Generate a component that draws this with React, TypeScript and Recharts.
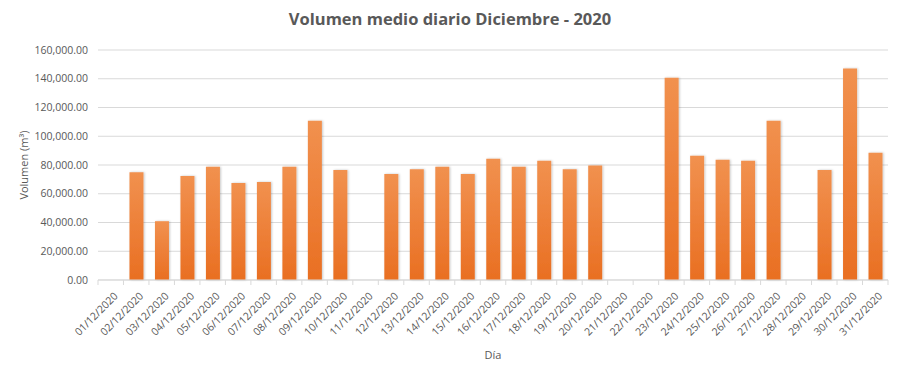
import React from "react";
import {
  BarChart,
  Bar,
  XAxis,
  YAxis,
  CartesianGrid,
} from "recharts";

const days = [
  "01/12/2020", "02/12/2020", "03/12/2020", "04/12/2020", "05/12/2020",
  "06/12/2020", "07/12/2020", "08/12/2020", "09/12/2020", "10/12/2020",
  "11/12/2020", "12/12/2020", "13/12/2020", "14/12/2020", "15/12/2020",
  "16/12/2020", "17/12/2020", "18/12/2020", "19/12/2020", "20/12/2020",
  "21/12/2020", "22/12/2020", "23/12/2020", "24/12/2020", "25/12/2020",
  "26/12/2020", "27/12/2020", "28/12/2020", "29/12/2020", "30/12/2020",
  "31/12/2020",
];

const volumen = [
  0, 75000, 40900, 72400, 78700, 67500, 68200, 78700, 110800, 76600,
  0, 73800, 77000, 78700, 73800, 84300, 78700, 82900, 77000, 79600,
  0, 0, 140700, 86400, 83600, 82900, 110800, 0, 76600, 147200,
  88500,
];

const yTicks = [0, 20000, 40000, 60000, 80000, 100000, 120000, 140000, 160000];

const data = days.map((dia, i) => ({ dia, volumen: volumen[i] }));

const TEXT = "#595959";
const GRID = "#D9D9D9";
const FONT = "'Open Sans', sans-serif";

const fmt = (v: number) =>
  v.toLocaleString("en-US", { minimumFractionDigits: 2, maximumFractionDigits: 2 });

// category ticks: label rotated -45deg, tick marks at the band edges (Excel style)
const DayTick = ({ x, y, payload, index }: any) => {
  const half = payload.offset || 0;
  const last = index === days.length - 1;
  return (
    <g>
      <line x1={x - half} x2={x - half} y1={y} y2={y + 5} stroke={GRID} />
      {last && <line x1={x + half} x2={x + half} y1={y} y2={y + 5} stroke={GRID} />}
      <text
        x={x + 5}
        y={y + 14}
        transform={`rotate(-45, ${x + 5}, ${y + 14})`}
        textAnchor="end"
        dominantBaseline="central"
        fill={TEXT}
        fontSize={10.5}
        fontFamily={FONT}
      >
        {payload.value}
      </text>
    </g>
  );
};

export default function App() {
  return (
    <div style={{ position: "absolute", left: 0, top: 0, width: 900, height: 374, background: "#fff" }}>
      <div
        style={{
          position: "absolute",
          left: 0,
          top: 7,
          width: 900,
          textAlign: "center",
          fontFamily: FONT,
          fontWeight: 700,
          fontSize: 16.5,
          color: TEXT,
        }}
      >
        Volumen medio diario Diciembre - 2020
      </div>
      <BarChart
        width={900}
        height={374}
        data={data}
        margin={{ top: 50, right: 12, left: 8, bottom: 8 }}
      >
        <defs>
          <linearGradient id="barGradient" x1="0" y1="0" x2="0" y2="1">
            <stop offset="0%" stopColor="#F1914F" />
            <stop offset="100%" stopColor="#E96F22" />
          </linearGradient>
          <filter id="barShadow" x="-30%" y="-5%" width="160%" height="110%">
            <feDropShadow dx="1" dy="0" stdDeviation="1" floodColor="#000" floodOpacity="0.22" />
          </filter>
        </defs>
        <CartesianGrid vertical={false} stroke={GRID} />
        <XAxis
          dataKey="dia"
          interval={0}
          axisLine={{ stroke: GRID }}
          tickLine={false}
          tickSize={0}
          tickMargin={0}
          tick={<DayTick />}
          height={86}
          label={{
            value: "Día",
            position: "insideBottom",
            offset: 7,
            fill: TEXT,
            fontSize: 11,
            fontFamily: FONT,
          }}
        />
        <YAxis
          domain={[0, 160000]}
          ticks={yTicks}
          interval={0}
          width={90}
          axisLine={false}
          tickLine={false}
          tickMargin={4}
          tickFormatter={fmt}
          tick={{ fill: TEXT, fontSize: 10.5, fontFamily: FONT }}
          label={{
            value: "Volumen (m³)",
            angle: -90,
            position: "center",
            dx: -29,
            fill: TEXT,
            fontSize: 11,
            fontFamily: FONT,
          }}
        />
        <Bar
          dataKey="volumen"
          barSize={14}
          fill="url(#barGradient)"
          filter="url(#barShadow)"
          isAnimationActive={false}
        />
      </BarChart>
    </div>
  );
}
